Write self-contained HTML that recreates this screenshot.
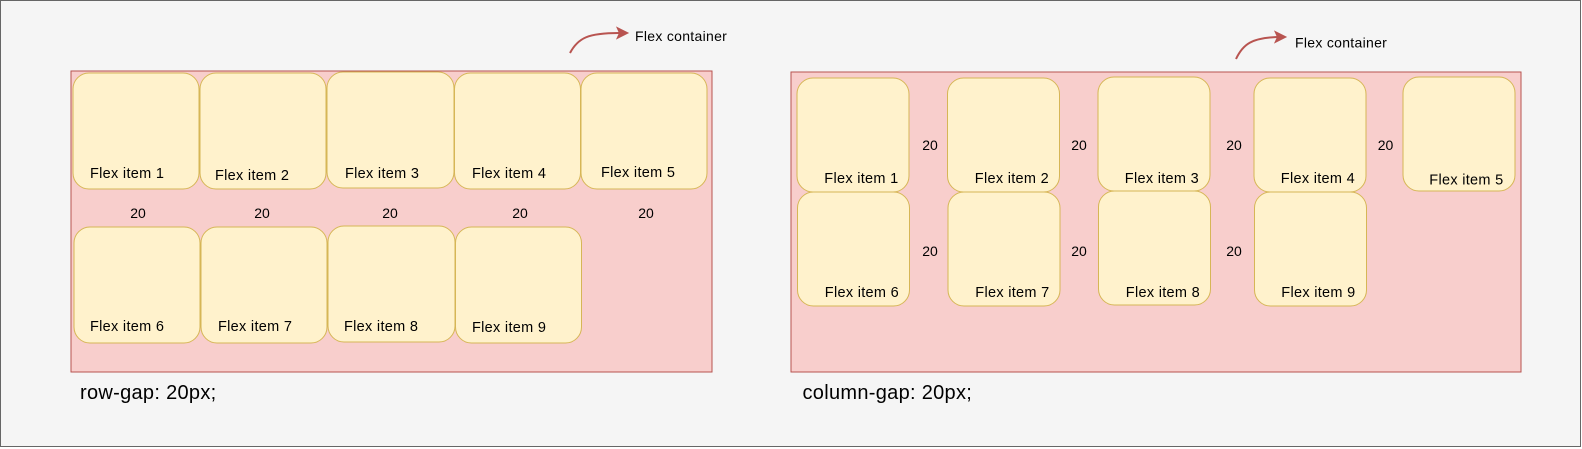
<!DOCTYPE html>
<html><head><meta charset="utf-8"><style>
html,body{margin:0;padding:0;background:#fff;}
svg{display:block;}
text{font-family:"Liberation Sans",sans-serif;fill:#000;}
</style></head><body>
<svg width="1582" height="449" viewBox="0 0 1582 449" xmlns="http://www.w3.org/2000/svg">
<rect x="0.5" y="0.5" width="1580" height="446" fill="#f5f5f5" stroke="#666" stroke-width="1"/>

<!-- LEFT: row-gap -->
<rect x="71" y="71" width="641" height="301" fill="#f8cecc" stroke="#b85450" stroke-width="1"/>
<g fill="#fff2cc" stroke="#d6b656" stroke-width="1">
<rect x="73" y="73" width="126" height="116" rx="16"/>
<rect x="200" y="73" width="126" height="116" rx="16"/>
<rect x="327" y="72" width="127" height="116" rx="16"/>
<rect x="454.5" y="73" width="126" height="116" rx="16"/>
<rect x="581" y="73" width="126" height="116" rx="16"/>
<rect x="74" y="227" width="126" height="116" rx="16"/>
<rect x="201" y="227" width="126" height="116" rx="16"/>
<rect x="328" y="226" width="127" height="116" rx="16"/>
<rect x="455.5" y="227" width="126" height="116" rx="16"/>
</g>
<g font-size="14.5" dominant-baseline="central" letter-spacing="0.3">
<text x="90" y="174">Flex item 1</text>
<text x="215" y="176">Flex item 2</text>
<text x="345" y="174">Flex item 3</text>
<text x="472" y="174">Flex item 4</text>
<text x="601" y="173">Flex item 5</text>
<text x="90" y="327">Flex item 6</text>
<text x="218" y="327">Flex item 7</text>
<text x="344" y="327">Flex item 8</text>
<text x="472" y="328">Flex item 9</text>
</g>
<g font-size="14" dominant-baseline="central" text-anchor="middle">
<text x="138" y="213">20</text>
<text x="262" y="213">20</text>
<text x="390" y="213">20</text>
<text x="520" y="213">20</text>
<text x="646" y="213">20</text>
</g>
<path d="M570,53 C578,38 588,33 619,33" fill="none" stroke="#b85450" stroke-width="2"/>
<path d="M628,33 L617,27.5 L619.5,33 L617,38.5 Z" fill="#b85450" stroke="#b85450" stroke-width="1"/>
<text x="635" y="36" font-size="14" dominant-baseline="central" letter-spacing="0.3">Flex container</text>
<text x="80" y="393" font-size="20" dominant-baseline="central" letter-spacing="0.3">row-gap: 20px;</text>

<!-- RIGHT: column-gap -->
<rect x="791" y="72" width="730" height="300" fill="#f8cecc" stroke="#b85450" stroke-width="1"/>
<g fill="#fff2cc" stroke="#d6b656" stroke-width="1">
<rect x="797" y="78" width="112" height="114" rx="16"/>
<rect x="947.5" y="78" width="112" height="114" rx="16"/>
<rect x="1098" y="77" width="112" height="114" rx="16"/>
<rect x="1254" y="78" width="112" height="114" rx="16"/>
<rect x="1403" y="77" width="112" height="114" rx="16"/>
<rect x="797.5" y="192" width="112" height="114" rx="16"/>
<rect x="948" y="192" width="112" height="114" rx="16"/>
<rect x="1098.5" y="191" width="112" height="114" rx="16"/>
<rect x="1254.5" y="192" width="112" height="114" rx="16"/>
</g>
<g font-size="14.5" dominant-baseline="central" text-anchor="end" letter-spacing="0.3">
<text x="898.5" y="179">Flex item 1</text>
<text x="1049" y="179">Flex item 2</text>
<text x="1199" y="179">Flex item 3</text>
<text x="1355" y="179">Flex item 4</text>
<text x="1503.5" y="180.5">Flex item 5</text>
<text x="899" y="293">Flex item 6</text>
<text x="1049.5" y="293">Flex item 7</text>
<text x="1200" y="293">Flex item 8</text>
<text x="1355.5" y="293">Flex item 9</text>
</g>
<g font-size="14" dominant-baseline="central" text-anchor="middle">
<text x="930" y="145">20</text>
<text x="1079" y="145">20</text>
<text x="1234" y="145">20</text>
<text x="1385.5" y="145">20</text>
<text x="930" y="251">20</text>
<text x="1079" y="251">20</text>
<text x="1234" y="251">20</text>
</g>
<path d="M1236,59 C1243,44 1252,38 1277,37" fill="none" stroke="#b85450" stroke-width="2"/>
<path d="M1286,37 L1275,31.5 L1277.5,37 L1275,42.5 Z" fill="#b85450" stroke="#b85450" stroke-width="1"/>
<text x="1295" y="42.5" font-size="14" dominant-baseline="central" letter-spacing="0.3">Flex container</text>
<text x="802.5" y="393" font-size="20" dominant-baseline="central" letter-spacing="0.3">column-gap: 20px;</text>
</svg>
</body></html>
